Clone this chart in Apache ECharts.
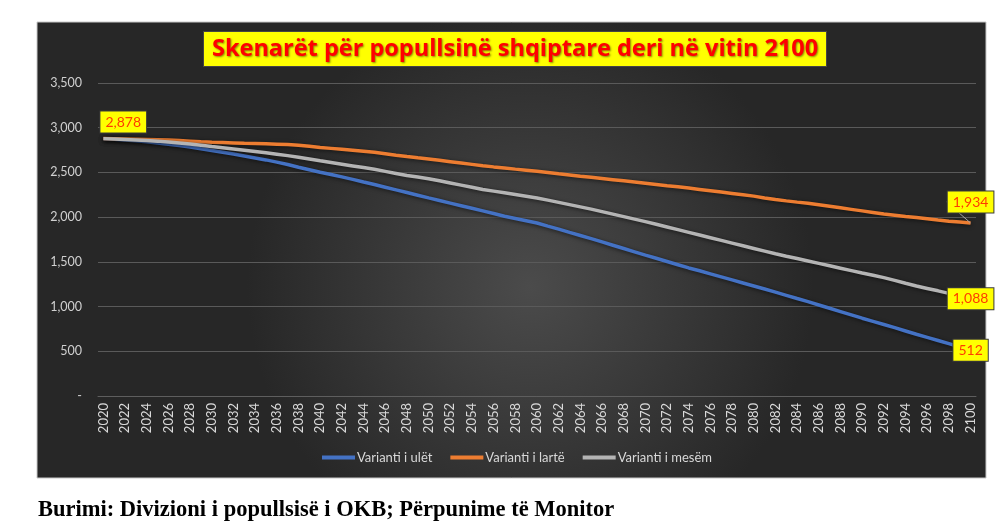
<!DOCTYPE html>
<html><head><meta charset="utf-8">
<style>html,body{margin:0;padding:0;background:#fff;}#c{width:1000px;height:532px;}</style>
<script src="https://cdn.jsdelivr.net/npm/echarts@6/dist/echarts.min.js"></script>
</head><body><div id="c"></div>
<script>
const years = [];
for (let y = 2020; y <= 2100; y++) years.push(String(y));

const lowVariant = [2878,2871,2863,2853,2842,2830,2816,2801,2785,2764,2745,2725,2705,2684,2662,2640,2615,2588,2558,2530,2502,2476,2450,2422,2393,2365,2335,2305,2275,2245,2215,2186,2157,2128,2099,2070,2040,2010,1985,1960,1935,1900,1866,1830,1795,1760,1723,1686,1649,1612,1575,1540,1504,1468,1432,1400,1366,1332,1298,1264,1230,1196,1162,1126,1090,1055,1018,981,944,907,870,835,800,764,727,690,655,620,585,549,512];
const highVariant = [2878,2877,2875,2872,2869,2866,2862,2857,2850,2843,2838,2834,2830,2826,2823,2820,2816,2811,2803,2792,2780,2769,2758,2747,2736,2725,2709,2692,2677,2663,2650,2635,2620,2605,2590,2575,2562,2550,2537,2525,2512,2499,2485,2472,2458,2445,2432,2419,2406,2393,2380,2366,2352,2339,2325,2310,2295,2280,2265,2250,2235,2215,2197,2182,2168,2155,2138,2121,2104,2087,2070,2053,2036,2022,2008,1995,1982,1968,1955,1945,1934];
const midVariant = [2878,2874,2869,2863,2857,2850,2840,2829,2817,2804,2790,2776,2762,2748,2734,2720,2704,2688,2670,2650,2630,2611,2592,2573,2554,2535,2512,2489,2466,2448,2430,2406,2382,2358,2334,2310,2291,2272,2253,2234,2215,2190,2165,2140,2115,2090,2062,2034,2006,1978,1950,1920,1890,1860,1830,1800,1770,1740,1710,1680,1650,1620,1590,1563,1537,1510,1483,1456,1429,1402,1375,1350,1324,1293,1261,1230,1203,1176,1148,1118,1088];

const seriesNames = ['Varianti i ulët', 'Varianti i lartë', 'Varianti i mesëm'];
const titleText = 'Skenarët për popullsinë shqiptare deri në vitin 2100';
const sourceText = 'Burimi: Divizioni i popullsisë i OKB; Përpunime të Monitor';

function fmt(v){ return v === 0 ? '-' : v.toLocaleString('en-US'); }

const boxLabel = {
  show: true,
  backgroundColor: '#ffff00',
  borderColor: '#3a3a3a',
  borderWidth: 1,
  padding: [4, 5, 3, 5],
  color: '#ff3c00',
  fontFamily: 'Lato',
  fontSize: 14,
  formatter: p => fmt(p.value)
};

function withLabels(arr, endLabel, startLabel) {
  return arr.map((v, i) => {
    if (i === arr.length - 1 && endLabel) return { value: v, label: Object.assign({}, boxLabel, endLabel) };
    if (i === 0 && startLabel) return { value: v, label: Object.assign({}, boxLabel, startLabel) };
    return v;
  });
}

const chart = echarts.init(document.getElementById('c'));
const lineCommon = {
  type: 'line',
  showSymbol: true,
  symbol: 'circle',
  symbolSize: 0,
  smooth: false,
  label: { show: false },
  emphasis: { disabled: true }
};
const shadow = { shadowColor: 'rgba(0,0,0,0.6)', shadowBlur: 4, shadowOffsetY: 1 };

chart.setOption({
  animation: false,
  graphic: [
    {
      type: 'rect', z: -10, silent: true,
      shape: { x: 37, y: 22, width: 949, height: 456 },
      style: {
        fill: { type: 'radial', x: 0.52, y: 0.58, r: 0.62,
          colorStops: [{ offset: 0, color: '#4b4b4b' }, { offset: 1, color: '#272727' }] },
        stroke: '#c8c8c8', lineWidth: 1
      }
    },
    {
      type: 'text', left: 38, top: 499, silent: true,
      style: { text: sourceText, fill: '#000', font: 'bold 22.5px "Liberation Serif"' }
    }
  ],
  title: {
    text: titleText,
    left: 203, top: 31,
    backgroundColor: '#ffff00',
    borderColor: '#444', borderWidth: 1,
    padding: [5, 9, 5, 9],
    textStyle: {
      color: '#ff0000', fontSize: 23.5, fontWeight: 'bold', fontFamily: 'Open Sans', lineHeight: 26,
      textShadowColor: 'rgba(0,0,0,0.45)', textShadowBlur: 2, textShadowOffsetX: 1, textShadowOffsetY: 1
    }
  },
  legend: {
    data: seriesNames,
    left: 317, top: 446,
    icon: 'rect', itemWidth: 33, itemHeight: 4, itemGap: 18,
    textStyle: { color: '#d9d9d9', fontSize: 13, fontFamily: 'Lato', padding: [0, 0, 0, -3] }
  },
  grid: { left: 98, right: 24, top: 83, bottom: 136, containLabel: false },
  xAxis: {
    type: 'category',
    data: years,
    boundaryGap: true,
    axisLine: { show: true, lineStyle: { color: '#5e5e5e' } },
    axisTick: { show: false },
    axisLabel: { interval: 1, rotate: 90, color: '#d9d9d9', fontSize: 13, fontFamily: 'Lato', margin: 7 }
  },
  yAxis: {
    type: 'value', min: 0, max: 3500, interval: 500,
    axisLine: { show: false }, axisTick: { show: false },
    splitLine: { lineStyle: { color: '#5a5a5a', width: 1 } },
    axisLabel: { color: '#d0d0d0', fontSize: 12.5, fontFamily: 'Lato', margin: 16, formatter: v => fmt(v) }
  },
  series: [
    Object.assign({}, lineCommon, {
      name: seriesNames[0],
      data: withLabels(lowVariant, { position: 'inside' }),
      lineStyle: Object.assign({ color: '#4472c4', width: 3.5 }, shadow),
      itemStyle: { color: '#4472c4' }
    }),
    Object.assign({}, lineCommon, {
      name: seriesNames[1],
      data: withLabels(highVariant, { position: 'inside' }),
      lineStyle: Object.assign({ color: '#ed7d31', width: 3.5 }, shadow),
      itemStyle: { color: '#ed7d31' },
      labelLine: { show: true, lineStyle: { color: '#a6a6a6', width: 1 } },
      labelLayout: p => (p.dataIndex === highVariant.length - 1 ? { dy: -21 } : {})
    }),
    Object.assign({}, lineCommon, {
      name: seriesNames[2],
      data: withLabels(midVariant, { position: 'inside' }, { position: [-3, -27] }),
      lineStyle: Object.assign({ color: '#b4b4b4', width: 3.5 }, shadow),
      itemStyle: { color: '#b4b4b4' }
    })
  ]
});
</script></body></html>
